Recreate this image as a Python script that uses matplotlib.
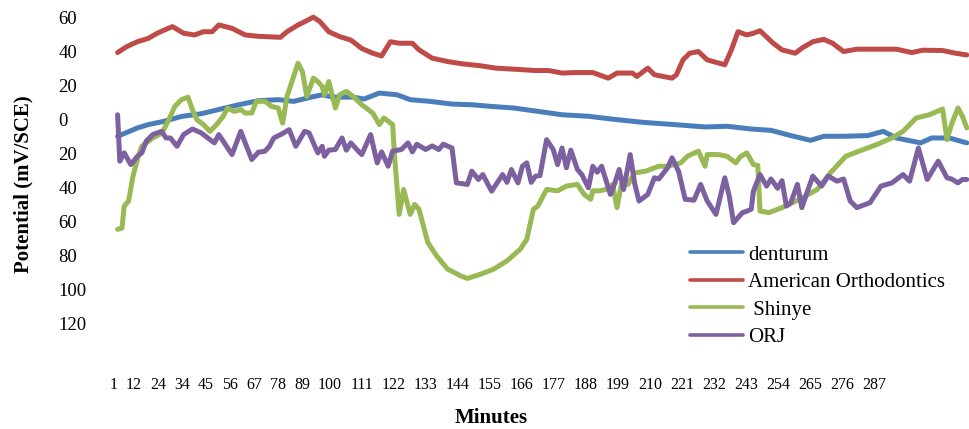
import matplotlib
matplotlib.use("Agg")
import matplotlib.pyplot as plt

plt.rcParams["font.family"] = ["Liberation Serif", "DejaVu Serif"]

# readings, minutes vs potential (mV/SCE)
denturum_min = [1, 10, 15, 22, 30, 39, 48, 56, 65, 74, 81, 89, 94, 99, 108, 113, 120,
                128, 134, 143, 153, 162, 171, 181, 192, 203, 215, 228, 240, 254, 268,
                278, 289, 298, 307, 316, 322, 331, 342, 349, 355, 366, 371, 379, 387]
denturum_val = [-9.8, -4.9, -2.9, -1.0, 1.9, 3.5, 6.3, 8.8, 11.2, 11.8, 10.8, 13.3, 14.7,
                13.3, 13.3, 12.2, 15.7, 14.7, 11.8, 10.8, 9.2, 8.8, 7.8, 6.9, 4.9, 2.9,
                2.0, 0.0, -1.6, -2.9, -4.3, -3.9, -5.5, -6.3, -9.4, -12.2, -9.8, -9.8,
                -9.4, -6.9, -10.8, -13.7, -10.8, -10.8, -13.7]

american_min = [1, 5, 10, 15, 19, 24, 26, 31, 36, 40, 44, 47, 53, 59, 65, 75, 78, 83,
                86, 90, 93, 97, 102, 107, 112, 117, 121, 125, 129, 135, 138, 144, 151,
                158, 166, 173, 181, 191, 197, 203, 209, 217, 224, 228, 235, 237, 242,
                245, 253, 255, 258, 261, 265, 269, 277, 280, 283, 287, 290, 293, 299,
                303, 309, 312, 317, 322, 326, 331, 337, 346, 355, 362, 367, 376, 382, 387]
american_val = [39.6, 43, 46, 48, 51, 53.9, 54.9, 51, 50, 51.9, 51.9, 55.9, 53.9, 50,
                49.2, 48.6, 51.9, 55.9, 57.8, 60.5, 57.8, 51.9, 49, 47, 42, 39.2, 37.6,
                46, 45.1, 45.1, 41.2, 36.3, 34.3, 32.9, 31.8, 30.4, 29.8, 29, 29, 27.5,
                27.8, 27.8, 24.5, 27.5, 27.5, 25.5, 30.4, 26.5, 24.5, 26.5, 35.3, 39.2,
                40.2, 35.3, 32.4, 41.2, 51.9, 50, 51, 52.5, 45.1, 41.2, 39.2, 42.2, 46,
                47.4, 45.1, 40.2, 41.6, 41.6, 41.6, 39.6, 41, 40.8, 39.2, 38.2]

shinye_min = [1, 3, 4, 6, 8, 10, 12, 17, 20, 22, 25, 27, 30, 33, 35, 37, 40, 43, 46,
              49, 51, 54, 57, 59, 62, 64, 68, 71, 74, 76, 78, 83, 85, 87, 90, 92, 94,
              95, 97, 100, 102, 105, 108, 112, 117, 120, 122, 126, 127, 129, 131, 134,
              136, 138, 142, 146, 151, 157, 160, 166, 172, 178, 184, 187, 190, 192,
              196, 201, 205, 210, 213, 216, 217, 220, 223, 226, 228, 230, 233, 236,
              241, 247, 251, 254, 257, 260, 265, 268, 269, 274, 278, 282, 284, 287,
              290, 292, 293, 297, 303, 311, 319, 325, 332, 338, 346, 353, 358, 364,
              370, 376, 378, 380, 383, 385, 387]
shinye_val = [-64.7, -64, -51, -48, -33.3, -23.5, -15.7, -10.8, -8.8, -5.9, 2, 7.8,
              11.8, 13.3, 5.9, 0, -2.9, -6.9, -2.9, 2, 6.9, 4.9, 5.9, 3.9, 3.9, 10.8,
              10.8, 7.8, 6.9, -2, 13.7, 33.3, 28.4, 13.7, 24.5, 22.5, 19.6, 14.7, 22.5,
              6.9, 14.7, 16.7, 13.7, 8.8, 3.9, -2.9, 1, -2.9, -23.5, -55.9, -41.2,
              -55.9, -50, -52.9, -72.5, -80.4, -88.2, -92.2, -93.7, -91.2, -88.2,
              -83.3, -76.5, -70.6, -52.9, -51, -41.2, -42, -39.2, -38.2, -44.1, -47,
              -42, -42, -41.2, -38.2, -51.9, -38.2, -38.2, -31.4, -30.4, -27.5, -27.5,
              -26.5, -25.5, -21.6, -18.6, -27.5, -20.6, -20.6, -21.6, -25.5, -22,
              -19.6, -26.5, -27, -53.9, -54.9, -51.9, -47, -41.2, -31.4, -21.6, -18.6,
              -14.7, -10.8, -6.9, 1, 2.9, 6.3, -11.8, -2.9, 6.9, 2, -4.9]

orj_min = [1, 2, 4, 7, 10, 12, 14, 17, 21, 23, 25, 28, 31, 35, 39, 42, 45, 47, 50,
           53, 55, 57, 59, 62, 65, 68, 70, 72, 76, 79, 82, 86, 88, 92, 94, 95, 97,
           100, 103, 105, 107, 110, 112, 116, 119, 121, 124, 126, 130, 133, 135, 137,
           141, 144, 147, 149, 153, 155, 160, 162, 165, 167, 171, 176, 178, 180, 183,
           185, 187, 189, 191, 193, 196, 199, 201, 203, 205, 207, 210, 212, 215, 217,
           219, 221, 225, 227, 229, 231, 234, 236, 238, 242, 245, 247, 251, 253, 256,
           259, 263, 266, 269, 273, 277, 279, 281, 285, 287, 289, 290, 293, 296, 298,
           301, 303, 305, 307, 310, 312, 317, 321, 324, 328, 331, 334, 337, 343, 348,
           353, 358, 361, 365, 369, 374, 378, 380, 383, 385, 387]
orj_val = [2.9, -24.5, -19.6, -26.5, -21.6, -19.6, -12.7, -8.8, -6.9, -10.8, -10.8,
           -15.7, -8.8, -5.5, -7.8, -10.8, -13.7, -8.8, -14.7, -20.6, -13.7, -6.9,
           -13.7, -23.5, -19.2, -18.6, -15.7, -10.8, -8.2, -5.9, -15.7, -6.9, -7.8,
           -19.6, -15.7, -21.6, -18, -17.6, -10.8, -18, -13.7, -18, -20.6, -8.8,
           -25.5, -19, -27.5, -18.6, -17.6, -13.7, -19, -14.5, -17.6, -15.5, -17.6,
           -14.5, -16.7, -37.3, -38.2, -30.4, -35.3, -32.4, -42.2, -32.4, -37, -29.4,
           -37.3, -27.5, -25.5, -37, -33.3, -33, -11.8, -17.6, -26.5, -16.7, -28.4,
           -18, -29.4, -32.4, -40.2, -27.5, -31, -27.5, -44.1, -37.5, -29.4, -41.2,
           -20.6, -37.5, -48, -44.1, -34.3, -35, -28.4, -22.5, -30.5, -47, -47.5,
           -38.2, -48, -55.9, -34.3, -45, -60.8, -54.9, -54, -52.9, -42.2, -32.4,
           -39.2, -35, -40.5, -36, -51, -49, -38.2, -51.9, -33.3, -39.2, -33.3, -36.3,
           -35, -48, -51.9, -49, -39.2, -37.3, -32.4, -36.3, -16.7, -35.3, -24.5,
           -34.3, -35, -37.3, -35.3, -35.3]

series_names = ["denturum", "American Orthodontics", " Shinye", "ORJ"]
series_colors = ["#4A7EBB", "#BE4B48", "#98B954", "#7D60A0"]

y_ticks = [60, 40, 20, 0, -20, -40, -60, -80, -100, -120]
y_tick_labels = ["60", "40", "20", "0", "20", "40", "60", "80", "100", "120"]
x_tick_labels = ["1", "12", "24", "34", "45", "56", "67", "78", "89", "100", "111",
                 "122", "133", "144", "155", "166", "177", "188", "199", "210", "221",
                 "232", "243", "254", "265", "276", "287"]


def plot():
    W, H = 969, 429
    fig = plt.figure(figsize=(W / 100, H / 100), dpi=100)
    # plot area in pixels: x 100..969, y 18..323
    ax = fig.add_axes([100 / W, 1 - 323 / H, 869 / W, 305 / H])

    data = [
        (denturum_min, denturum_val),
        (american_min, american_val),
        (shinye_min, shinye_val),
        (orj_min, orj_val),
    ]
    for (xs, ys), name, color in zip(data, series_names, series_colors):
        ax.plot(xs, ys, color=color, lw=3.6, label=name, clip_on=False,
                solid_joinstyle="round", solid_capstyle="round")

    ax.set_xlim(-7, 388)
    ax.set_ylim(-120, 60)

    # category labels sit one after another with a fixed gap (as in the original)
    px_per_min = 869 / 395
    centers = []
    cx = 114
    for i, lab in enumerate(x_tick_labels):
        if i > 0:
            cx += (len(x_tick_labels[i - 1]) + len(lab)) * 4 + 8
        centers.append(cx)
    ax.set_xticks([-7 + (c - 100) / px_per_min for c in centers])
    ax.set_xticklabels(x_tick_labels, fontsize=11.5)

    ax.set_yticks(y_ticks)
    ax.set_yticklabels(y_tick_labels, fontsize=13.5)
    for lab in ax.get_yticklabels():
        lab.set_horizontalalignment("left")

    ax.tick_params(axis="y", length=0, pad=30)
    ax.tick_params(axis="x", length=0, pad=39)
    for s in ax.spines.values():
        s.set_visible(False)

    ax.set_xlabel("Minutes", fontsize=15, fontweight="bold")
    ax.xaxis.set_label_coords((491 - 100) / 869, -(418 - 323) / 305)
    ax.xaxis.label.set_verticalalignment("center")
    ax.set_ylabel("Potential (mV/SCE)", fontsize=15, fontweight="bold")
    ax.yaxis.set_label_coords((23 - 100) / 869, (323 - 184) / 305)
    ax.yaxis.label.set_verticalalignment("center")

    leg = ax.legend(
        loc="upper left",
        bbox_to_anchor=(690 / W, 1 - 245 / H),
        bbox_transform=fig.transFigure,
        frameon=False,
        fontsize=15,
        handlelength=2.55,
        handletextpad=0.25,
        labelspacing=0.38,
        borderpad=0,
        borderaxespad=0,
    )
    for line in leg.get_lines():
        line.set_linewidth(2.6)

    fig.savefig("out.png", dpi=100)
    plt.close(fig)


plot()
